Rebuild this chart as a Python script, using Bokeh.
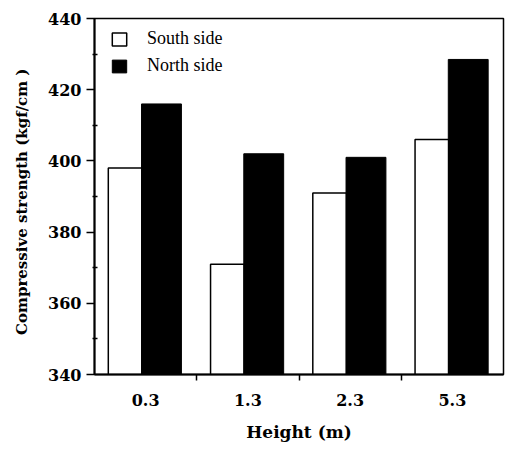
import numpy as np
from bokeh.plotting import figure
from bokeh.models import Range1d, FixedTicker, Legend, LegendItem, ColumnDataSource
from bokeh.embed import file_html
from bokeh.resources import INLINE

heights = ["0.3", "1.3", "2.3", "5.3"]
south = [398, 371, 391, 406]
north = [416, 402, 401, 428.5]
y_ticks = [340, 360, 380, 400, 420, 440]
y_minor = [350, 370, 390, 410, 430]

x = np.arange(len(heights)) + 0.5
src = ColumnDataSource(dict(
    xs=x - 0.2, xn=x + 0.155, south=south, north=north,
))

W, H = 505, 444
BL, BR, BT, BB = 94, 2, 18, 67
Y0, Y1 = 340, 440
p = figure(width=W, height=H, output_backend="svg", toolbar_location=None,
           x_range=Range1d(0, len(heights)), y_range=Range1d(Y0, Y1),
           min_border_left=BL, min_border_right=BR, min_border_top=BT, min_border_bottom=BB)
p.background_fill_color = "white"
p.border_fill_color = "white"
p.outline_line_color = "black"
p.outline_line_width = 1.5
p.xgrid.visible = False
p.ygrid.visible = False

rs = p.vbar(x="xs", top="south", bottom=Y0, width=0.33, source=src,
            fill_color="white", line_color="black", line_width=1.5)
rn = p.vbar(x="xn", top="north", bottom=Y0, width=0.39, source=src,
            fill_color="black", line_color="black", line_width=1)

# y axis
ya = p.yaxis[0]
ya.ticker = FixedTicker(ticks=y_ticks, minor_ticks=y_minor)
ya.axis_line_width = 2
ya.major_tick_out = 8
ya.major_tick_in = 0
ya.major_tick_line_width = 1.5
ya.minor_tick_in = 3
ya.minor_tick_out = 2
ya.minor_tick_line_width = 1.5
ya.major_label_standoff = 5
ya.major_label_text_font = "DejaVu Serif"
ya.major_label_text_font_style = "bold"
ya.major_label_text_font_size = "16px"
ya.major_label_text_color = "black"
ya.axis_label = "Compressive strength  (kgf/cm  )"
ya.axis_label_text_font = "DejaVu Serif"
ya.axis_label_text_font_style = "bold"
ya.axis_label_text_font_size = "15px"
ya.axis_label_text_color = "black"
ya.axis_label_standoff = 14

# x axis
xa = p.xaxis[0]
xa.ticker = FixedTicker(ticks=list(x), minor_ticks=list(np.arange(1, len(heights))))
xa.major_label_overrides = {float(v): h for v, h in zip(x, heights)}
xa.axis_line_width = 2
xa.major_tick_out = 0
xa.major_tick_in = 0
xa.minor_tick_out = 6
xa.minor_tick_in = 0
xa.minor_tick_line_width = 1.5
xa.major_label_standoff = 13
xa.major_label_text_font = "DejaVu Serif"
xa.major_label_text_font_style = "bold"
xa.major_label_text_font_size = "16px"
xa.major_label_text_color = "black"
xa.axis_label = "Height (m)"
xa.axis_label_text_font = "DejaVu Serif"
xa.axis_label_text_font_style = "bold"
xa.axis_label_text_font_size = "17px"
xa.axis_label_text_color = "black"
xa.axis_label_standoff = 13

frame_h = H - BT - BB
legend = Legend(items=[LegendItem(label="South side", renderers=[rs]),
                       LegendItem(label="North side", renderers=[rn])],
                location=(16, frame_h - 61), margin=0, padding=0,
                border_line_color=None, background_fill_alpha=0,
                glyph_width=18, glyph_height=16, label_height=16,
                spacing=6, label_standoff=19,
                label_text_font="Liberation Serif", label_text_font_size="18px",
                label_text_color="black")
p.add_layout(legend)

open("out.html", "w").write(file_html(p, INLINE))
